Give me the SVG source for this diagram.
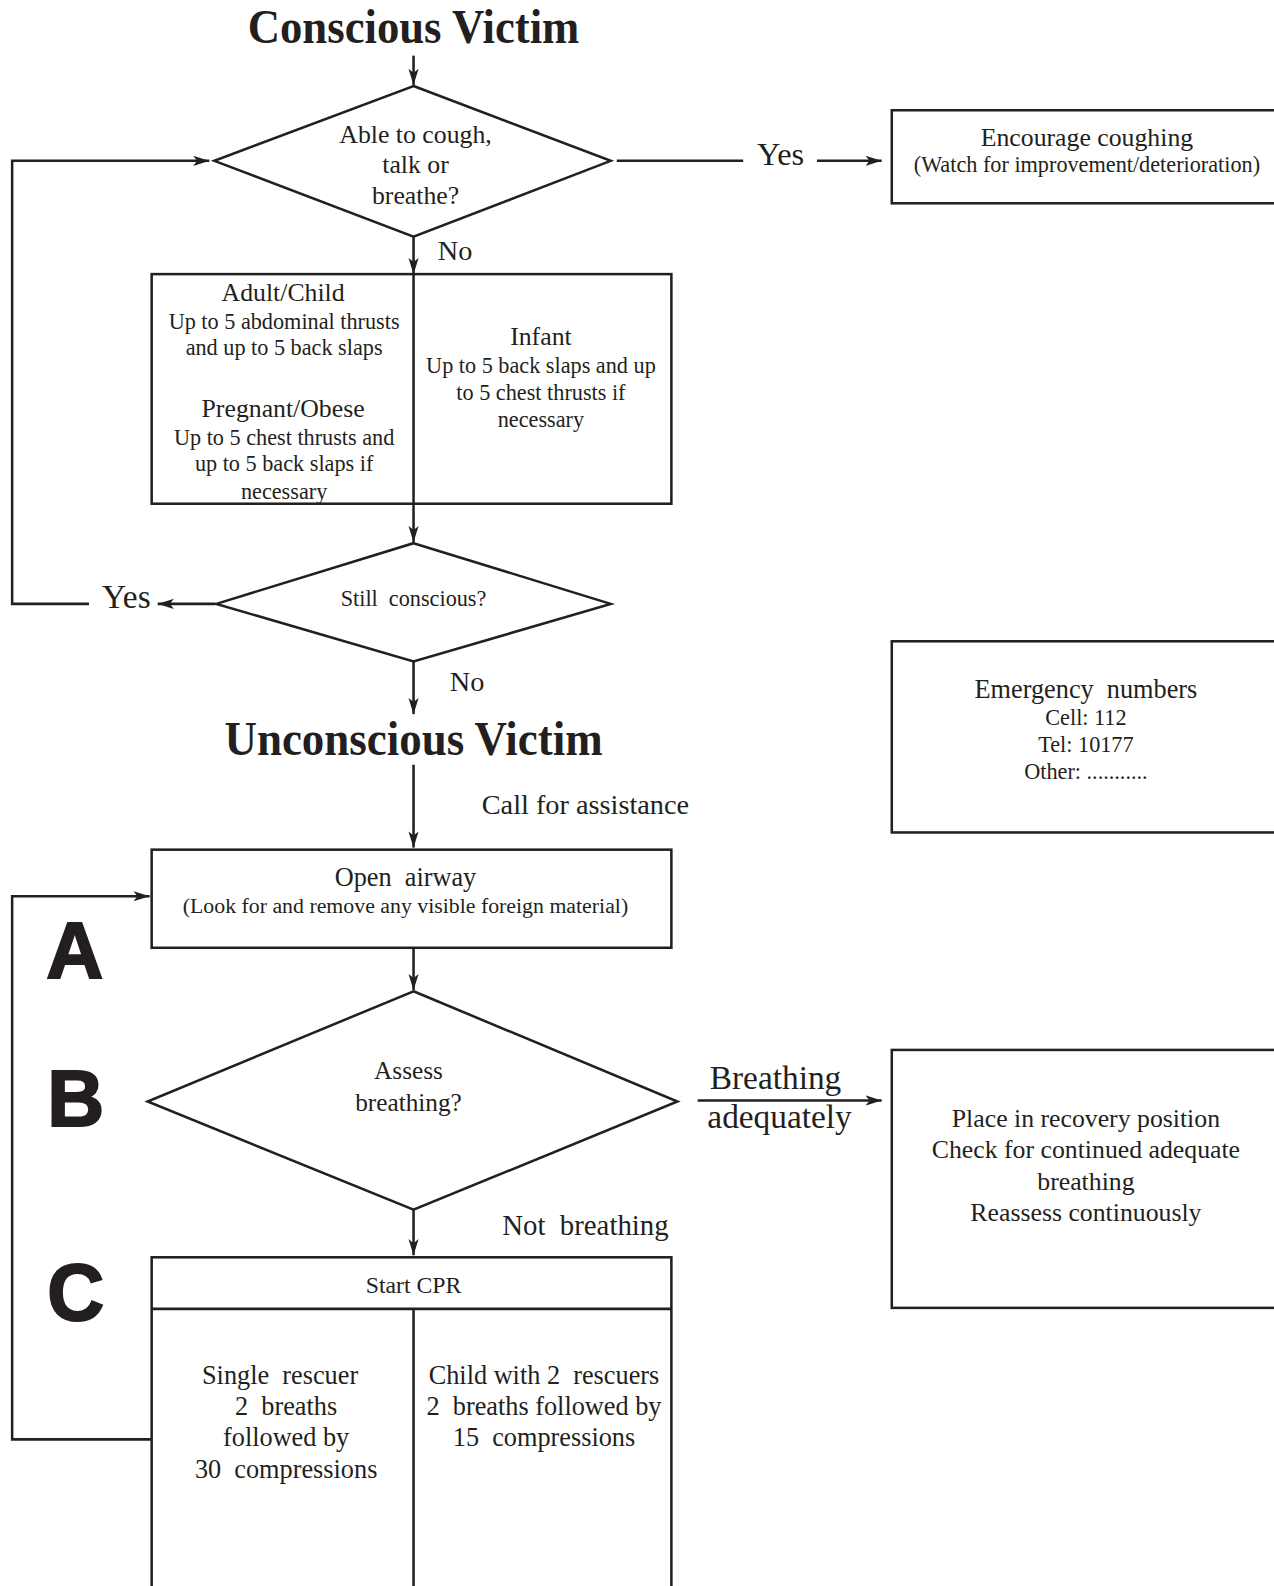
<svg xmlns="http://www.w3.org/2000/svg" width="1274" height="1586" viewBox="0 0 1274 1586">
<style>
  .ln{fill:none;stroke:#231f20;stroke-width:2.5}
  .bx{fill:#fff;stroke:#231f20;stroke-width:2.5}
  text{font-family:"Liberation Serif","Times New Roman",serif;fill:#231f20;text-anchor:middle}
  .ttl{font-weight:bold;font-size:48px}
  .h{font-size:26px}
  .m{font-size:25.5px}
  .s{font-size:22px}
  .abc{font-family:"Liberation Sans",Arial,sans-serif;font-weight:900;font-size:78px;stroke:#231f20;stroke-width:2}
</style>
<defs>
  <marker id="ah" viewBox="0 0 16 10" refX="16" refY="5" markerWidth="16" markerHeight="10" markerUnits="userSpaceOnUse" orient="auto">
    <path d="M0,0 L16,5 L0,10 L4,5 Z" fill="#231f20"/>
  </marker>
</defs>
<rect width="1274" height="1586" fill="#fff"/>
<g id="diagram" transform="scale(1.0111,1.0115)">

<g id="connectors">
  <line class="ln" x1="409" y1="55" x2="409" y2="84" marker-end="url(#ah)"/>
  <line class="ln" x1="610" y1="159" x2="735" y2="159"/>
  <line class="ln" x1="808" y1="159" x2="872" y2="159" marker-end="url(#ah)"/>
  <line class="ln" x1="409" y1="234" x2="409" y2="271" marker-end="url(#ah)"/>
  <line class="ln" x1="409" y1="271" x2="409" y2="536" marker-end="url(#ah)"/>
  <line class="ln" x1="213" y1="597" x2="156" y2="597" marker-end="url(#ah)"/>
  <polyline class="ln" points="88,597 12,597 12,159 207,159" marker-end="url(#ah)"/>
  <line class="ln" x1="409" y1="654" x2="409" y2="706" marker-end="url(#ah)"/>
  <line class="ln" x1="409" y1="756" x2="409" y2="838" marker-end="url(#ah)"/>
  <line class="ln" x1="409" y1="937" x2="409" y2="979" marker-end="url(#ah)"/>
  <line class="ln" x1="690" y1="1088" x2="872" y2="1088" marker-end="url(#ah)"/>
  <line class="ln" x1="409" y1="1196" x2="409" y2="1241" marker-end="url(#ah)"/>
  <polyline class="ln" points="150,1423 12,1423 12,886 148,886" marker-end="url(#ah)"/>
  <text x="772" y="163" style="font-size:32px">Yes</text>
  <text x="450" y="257" style="font-size:28px">No</text>
  <text x="125" y="601" style="font-size:33px">Yes</text>
  <text x="462" y="683" style="font-size:28px">No</text>
  <text x="579" y="805" style="font-size:28px">Call for assistance</text>
  <text x="767" y="1077" style="font-size:33px">Breathing</text>
  <text x="771" y="1115" style="font-size:33px">adequately</text>
  <text x="579" y="1221" style="font-size:28.5px">Not&#160; breathing</text>
</g>

<g id="title-conscious">
  <text class="ttl" x="409" y="43" textLength="328" lengthAdjust="spacingAndGlyphs">Conscious Victim</text>
</g>

<g id="q-cough">
  <polygon class="bx" points="409,85 604,159 409,234 212,159"/>
  <text class="m" x="411" y="141">Able to cough,</text>
  <text class="m" x="411" y="171">talk or</text>
  <text class="m" x="411" y="202">breathe?</text>
</g>

<g id="encourage">
  <rect class="bx" x="882" y="109" width="420" height="92"/>
  <text class="m" x="1075" y="144">Encourage coughing</text>
  <text class="s" x="1075" y="170">(Watch for improvement/deterioration)</text>
</g>

<g id="thrusts">
  <rect class="bx" x="150" y="271" width="514" height="227"/>
  <line class="ln" x1="409" y1="271" x2="409" y2="498"/>
  <text class="m" x="280" y="298">Adult/Child</text>
  <text class="s" x="281" y="325">Up to 5 abdominal thrusts</text>
  <text class="s" x="281" y="351">and up to 5 back slaps</text>
  <text class="m" x="280" y="412">Pregnant/Obese</text>
  <text class="s" x="281" y="440">Up to 5 chest thrusts and</text>
  <text class="s" x="281" y="466">up to 5 back slaps if</text>
  <text class="s" x="281" y="493">necessary</text>
  <text class="m" x="535" y="341">Infant</text>
  <text class="s" x="535" y="369">Up to 5 back slaps and up</text>
  <text class="s" x="535" y="395">to 5 chest thrusts if</text>
  <text class="s" x="535" y="422">necessary</text>
</g>

<g id="q-still">
  <polygon class="bx" points="409,537 604,597 409,654 214,597"/>
  <text class="s" x="409" y="599">Still&#160; conscious?</text>
</g>

<g id="title-unconscious">
  <text class="ttl" x="409" y="746" textLength="374" lengthAdjust="spacingAndGlyphs">Unconscious Victim</text>
</g>

<g id="emergency">
  <rect class="bx" x="882" y="634" width="420" height="189"/>
  <text class="h" x="1074" y="690">Emergency&#160; numbers</text>
  <text class="s" x="1074" y="717">Cell: 112</text>
  <text class="s" x="1074" y="743">Tel: 10177</text>
  <text class="s" x="1074" y="770">Other: ...........</text>
</g>

<g id="airway">
  <rect class="bx" x="150" y="840" width="514" height="97"/>
  <text class="h" x="401" y="876">Open&#160; airway</text>
  <text class="s" x="401" y="903" style="font-size:21.6px">(Look for and remove any visible foreign material)</text>
</g>

<g id="letters">
  <text class="abc" x="74" y="967">A</text>
  <text class="abc" x="75" y="1113">B</text>
  <text class="abc" x="75" y="1305">C</text>
</g>

<g id="q-breathing">
  <polygon class="bx" points="409,980 670,1089 409,1196 146,1089"/>
  <text class="m" x="404" y="1067" style="font-size:25px">Assess</text>
  <text class="m" x="404" y="1098" style="font-size:25px">breathing?</text>
</g>

<g id="recovery">
  <rect class="bx" x="882" y="1038" width="420" height="255"/>
  <text class="m" x="1074" y="1114">Place in recovery position</text>
  <text class="m" x="1074" y="1145">Check for continued adequate</text>
  <text class="m" x="1074" y="1176">breathing</text>
  <text class="m" x="1074" y="1207">Reassess continuously</text>
</g>

<g id="cpr">
  <rect class="bx" x="150" y="1243" width="514" height="400"/>
  <line class="ln" x1="150" y1="1294" x2="664" y2="1294"/>
  <line class="ln" x1="409" y1="1294" x2="409" y2="1600"/>
  <text x="409" y="1278" style="font-size:23.5px">Start CPR</text>
  <text class="h" x="277" y="1368">Single&#160; rescuer</text>
  <text class="h" x="283" y="1399">2&#160; breaths</text>
  <text class="h" x="283" y="1430">followed by</text>
  <text class="h" x="283" y="1461">30&#160; compressions</text>
  <text class="h" x="538" y="1368">Child with 2&#160; rescuers</text>
  <text class="h" x="538" y="1399">2&#160; breaths followed by</text>
  <text class="h" x="538" y="1430">15&#160; compressions</text>
</g>
</g>
</svg>
